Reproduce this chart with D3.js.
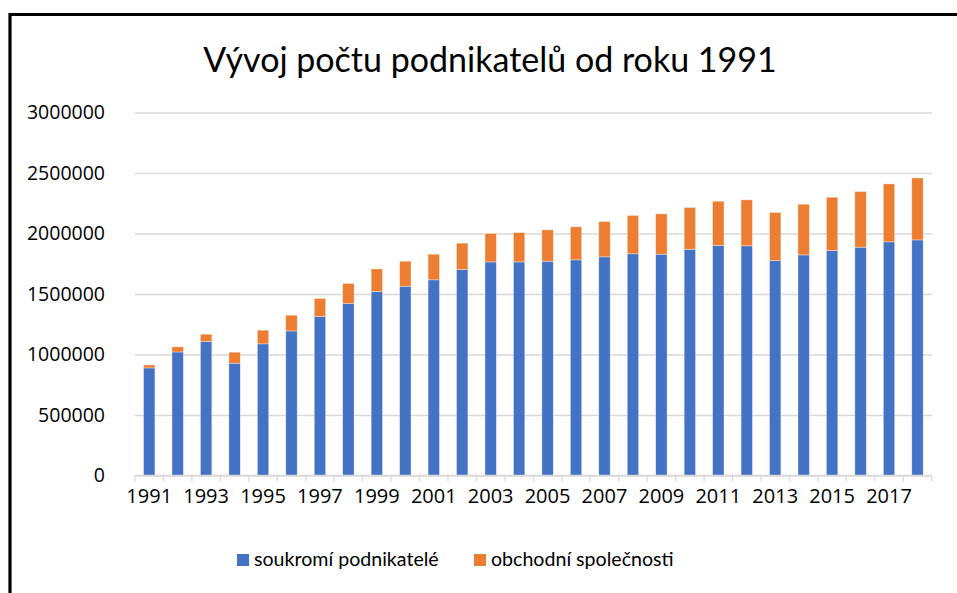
<!DOCTYPE html>
<html>
<head>
<meta charset="utf-8">
<script src="https://cdn.jsdelivr.net/npm/d3@7"></script>
<style>
  body { margin: 0; background: #fff; }
  svg { display: block; }
</style>
</head>
<body>
<div id="app"></div>
<script>
const years = d3.range(1991, 2019).map(String);
// soukromí podnikatelé (fyzické osoby)
const soukromi = [
  889000, 1021000, 1107000, 928000, 1088000, 1195000, 1314000, 1421000,
  1521000, 1564000, 1617000, 1701000, 1765000, 1765000, 1771000, 1782000,
  1807000, 1832000, 1829000, 1870000, 1901000, 1898000, 1777000, 1823000,
  1860000, 1887000, 1931000, 1947000
];
// obchodní společnosti
const spolecnosti = [
  25000, 42000, 61000, 91000, 113000, 130000, 149000, 166000,
  186000, 207000, 212000, 219000, 235000, 243000, 259000, 273000,
  292000, 317000, 333000, 345000, 366000, 380000, 397000, 419000,
  440000, 460000, 479000, 512000
];
const yTicks = [0, 500000, 1000000, 1500000, 2000000, 2500000, 3000000];
const seriesNames = ["soukromí podnikatelé", "obchodní společnosti"];
const colors = ["#4472C4", "#ED7D31"];
const title = "Vývoj počtu podnikatelů od roku 1991";

const W = 957, H = 593;
const svg = d3.select("#app").append("svg").attr("width", W).attr("height", H);

// frame (only top + left edges visible in the crop)
svg.append("path")
  .attr("d", `M10,${H} V14.5 H${W}`)
  .attr("fill", "none")
  .attr("stroke", "#000")
  .attr("stroke-width", 3.2);

svg.append("text")
  .attr("x", 490)
  .attr("y", 72)
  .attr("text-anchor", "middle")
  .style("font-family", "Lato, sans-serif")
  .style("font-size", "34px")
  .style("fill", "#000")
  .text(title);

const x = d3.scaleBand()
  .domain(years)
  .range([135, 931.7])
  .paddingInner(0.6)
  .paddingOuter(0.3);

const y = d3.scaleLinear()
  .domain([0, 3000000])
  .range([475.5, 112.5]);

// gridlines + y labels
const yAxis = svg.append("g")
  .attr("transform", "translate(135,0)")
  .call(d3.axisLeft(y)
    .tickValues(yTicks)
    .tickFormat(d3.format("d"))
    .tickSize(-(931.7 - 135))
    .tickPadding(30));
yAxis.select(".domain").remove();
yAxis.selectAll(".tick line").attr("stroke", "#d9d9d9").attr("stroke-width", 1.3);
yAxis.selectAll(".tick text")
  .style("font-family", "'Open Sans', sans-serif")
  .style("font-size", "19.5px")
  .style("fill", "#000");

// stacked bars
const data = years.map((yr, i) => ({ year: yr, soukromi: soukromi[i], spolecnosti: spolecnosti[i] }));
const stack = d3.stack().keys(["soukromi", "spolecnosti"])(data);

svg.append("g")
  .selectAll("g")
  .data(stack)
  .enter()
  .append("g")
  .attr("fill", (d, i) => colors[i])
  .selectAll("rect")
  .data(d => d)
  .enter()
  .append("rect")
  .attr("x", d => x(d.data.year))
  .attr("y", d => y(d[1]))
  .attr("width", x.bandwidth())
  .attr("height", d => y(d[0]) - y(d[1]))
  .attr("stroke", "#fff")
  .attr("stroke-opacity", 0.6)
  .attr("stroke-width", 0.6);

// x axis line with ticks between categories
const step = x.step();
const gap = (step - x.bandwidth()) / 2;
const bounds = years.map(d => x(d) - gap).concat([x(years[years.length - 1]) + x.bandwidth() + gap]);
const xg = svg.append("g");
xg.append("line")
  .attr("x1", x.range()[0]).attr("x2", x.range()[1])
  .attr("y1", y(0)).attr("y2", y(0))
  .attr("stroke", "#d9d9d9").attr("stroke-width", 1.3);
xg.selectAll(".tk")
  .data(bounds)
  .enter()
  .append("line")
  .attr("x1", d => d).attr("x2", d => d)
  .attr("y1", y(0)).attr("y2", y(0) + 6)
  .attr("stroke", "#d9d9d9").attr("stroke-width", 1.3);
xg.selectAll(".lbl")
  .data(years.filter((d, i) => i % 2 === 0))
  .enter()
  .append("text")
  .attr("x", d => x(d) + x.bandwidth() / 2)
  .attr("y", 503)
  .attr("text-anchor", "middle")
  .style("font-family", "'Open Sans', sans-serif")
  .style("font-size", "20px")
  .style("fill", "#000")
  .text(d => d);

// legend
const legendX = [237, 474];
const legend = svg.append("g");
seriesNames.forEach((name, i) => {
  legend.append("rect")
    .attr("x", legendX[i]).attr("y", 554)
    .attr("width", 12).attr("height", 12)
    .attr("fill", colors[i]);
  legend.append("text")
    .attr("x", legendX[i] + 17)
    .attr("y", 566)
    .style("font-family", "Lato, sans-serif")
    .style("font-size", "19.6px")
    .style("fill", "#000")
    .text(name);
});
</script>
</body>
</html>
